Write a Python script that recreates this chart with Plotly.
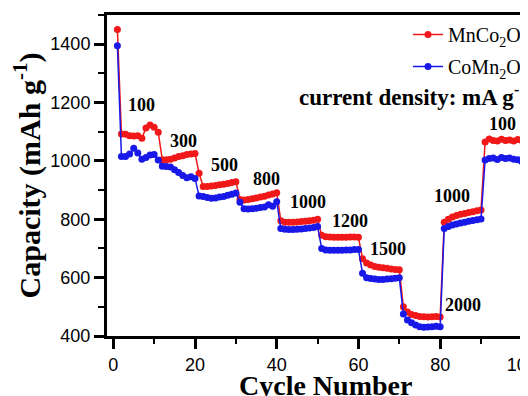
import plotly.graph_objects as go

cycles = list(range(1, 101))

mnco2o4 = [1450,
           1092, 1091, 1086, 1085, 1086, 1078, 1113, 1123, 1115, 1098,
           1004, 1004, 1006, 1010, 1015, 1018, 1022, 1024, 1025,
           958, 912, 912, 914, 916, 918, 920, 923, 926, 929,
           868, 866, 868, 870, 873, 876, 879, 883, 887, 891,
           795, 790, 790, 790, 791, 792, 793, 795, 797, 800,
           745, 740, 739, 738, 738, 738, 738, 739, 739, 738,
           665, 650, 643, 638, 636, 634, 632, 630, 628, 627,
           500, 482, 474, 470, 467, 466, 465, 466, 467, 465,
           790, 800, 808, 813, 817, 820, 823, 826, 829, 832,
           1065, 1075, 1070, 1068, 1074, 1070, 1072, 1068, 1073, 1070]

comn2o4 = [1395,
           1015, 1015, 1024, 1043, 1027, 1006, 1012, 1020, 1022, 1003,
           982, 981, 979, 970, 960, 950, 942, 946, 940,
           880, 878, 875, 872, 873, 876, 878, 882, 886, 890,
           858, 836, 835, 836, 838, 840, 842, 850, 845, 860,
           768, 766, 765, 765, 766, 767, 768, 770, 772, 775,
           700, 695, 694, 694, 694, 694, 695, 695, 696, 696,
           615, 600, 597, 595, 594, 594, 595, 596, 598, 600,
           475, 455, 445, 438, 432, 430, 431, 432, 433, 432,
           768, 775, 780, 784, 787, 790, 793, 796, 798, 801,
           1003, 1008, 1010, 1005, 1012, 1008, 1010, 1006, 1004, 998]

rate_labels = ["100", "300", "500", "800", "1000", "1200", "1500", "2000", "1000", "100"]
label_x = [6.95, 17.3, 27.1, 37.6, 47.7, 57.9, 67.3, 85.5, 82.9, 95.2]
label_y = [1193, 1068, 986, 938, 858, 794, 698, 506, 880, 1125]

RED = "#f01818"
BLUE = "#1818e8"
SERIF = "Liberation Serif, Times New Roman, serif"
SANS = "Liberation Sans, Arial, sans-serif"

fig = go.Figure()
fig.add_trace(go.Scatter(x=cycles, y=mnco2o4, mode="lines+markers",
                         name="MnCo<sub>2</sub>O<sub>4</sub>", legendgroup="a",
                         line=dict(color=RED, width=1.5),
                         marker=dict(color=RED, size=7, symbol="circle")))
fig.add_trace(go.Scatter(x=cycles, y=comn2o4, mode="lines+markers",
                         name="CoMn<sub>2</sub>O<sub>4</sub>", legendgroup="b",
                         line=dict(color=BLUE, width=1.5),
                         marker=dict(color=BLUE, size=7, symbol="circle")))

for t, x, y in zip(rate_labels, label_x, label_y):
    fig.add_annotation(x=x, y=y, text="<b>%s</b>" % t, showarrow=False,
                       font=dict(family=SERIF, size=18, color="black"),
                       xanchor="center", yanchor="middle")

fig.add_annotation(xref="paper", yref="paper", x=0.452, y=0.748,
                   text="<b>current density: mA g<sup>-1</sup></b>", showarrow=False,
                   font=dict(family=SERIF, size=23, color="black"),
                   xanchor="left", yanchor="middle")

# x-axis title
fig.add_annotation(xref="paper", yref="paper", x=0.518, y=-0.10,
                   text="<b>Cycle Number</b>", showarrow=False,
                   font=dict(family=SERIF, size=28, color="black"),
                   xanchor="center", yanchor="top")

fig.update_layout(
    width=520, height=388,
    margin=dict(l=99, r=0, t=7, b=60, autoexpand=False),
    paper_bgcolor="white", plot_bgcolor="white",
    showlegend=True,
    legend=dict(x=0.715, y=1.0, xanchor="left", yanchor="top",
                bgcolor="rgba(0,0,0,0)", tracegroupgap=3,
                font=dict(family=SERIF, size=20, color="black"),
                itemwidth=30),
    xaxis=dict(range=[-1.54, 101.5], dtick=20, tick0=0, automargin=False,
               showline=True, linecolor="black", linewidth=3, mirror=True,
               ticks="outside", ticklen=10, tickwidth=3, tickcolor="black",
               minor=dict(dtick=10, ticks="outside", ticklen=5, tickwidth=2, tickcolor="black"),
               showgrid=False, zeroline=False, ticklabeloverflow="allow",
               tickfont=dict(family=SANS, size=18, color="black")),
    yaxis=dict(range=[400, 1500], dtick=200, tick0=400, automargin=False,
               showline=True, linecolor="black", linewidth=3, mirror=False,
               ticks="outside", ticklen=10, tickwidth=3, tickcolor="black",
               minor=dict(dtick=100, ticks="outside", ticklen=6, tickwidth=2, tickcolor="black"),
               showgrid=False, zeroline=False,
               tickfont=dict(family=SANS, size=18, color="black"),
               title=dict(text="<b>Capacity (mAh g<sup>-1</sup>)</b>", standoff=12,
                          font=dict(family=SERIF, size=30, color="black"))),
)

fig.write_html("out.html")
